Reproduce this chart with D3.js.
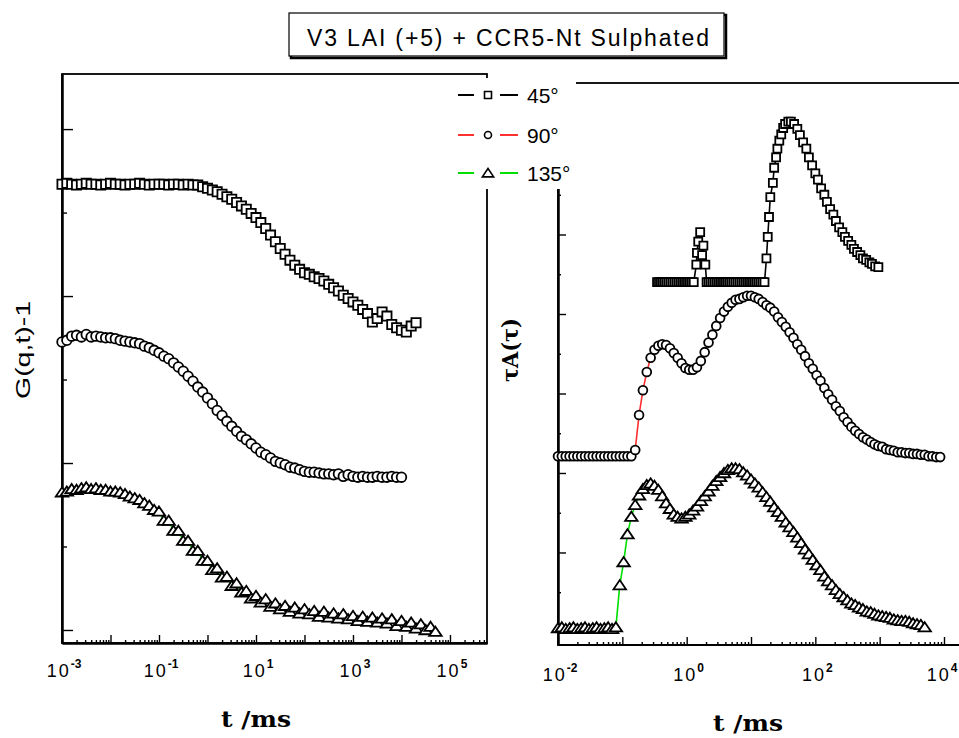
<!DOCTYPE html>
<html>
<head>
<meta charset="utf-8">
<script src="https://cdn.jsdelivr.net/npm/d3@7"></script>
<style>
  body { margin: 0; background: #fff; }
</style>
</head>
<body>
<script>
const title = 'V3 LAI (+5) + CCR5-Nt Sulphated'
const angles = ['45°', '90°', '135°']
const lineColors = ['#000000', '#ff3030', '#00e000']
const shapesUsed = ['square', 'circle', 'triangle']

const leftXLabel = 't /ms'
const leftYLabel = 'G(q,t)-1'
const rightXLabel = 't /ms'
const rightYLabel = 'τA(τ)'
const leftExponents = [-3, -1, 1, 3, 5]
const rightExponents = [-2, 0, 2, 4]

// left panel: log10(t / ms) and G(q,t)-1 (a.u.)
const leftLogT = [
  -3.0, -2.9, -2.8, -2.7, -2.6, -2.5, -2.4, -2.3, -2.2, -2.1,
  -2.0, -1.9, -1.8, -1.7, -1.6, -1.5, -1.4, -1.3, -1.2, -1.1,
  -1.0, -0.9, -0.8, -0.7, -0.6, -0.5, -0.4, -0.3, -0.2, -0.1,
  0.0, 0.1, 0.2, 0.3, 0.4, 0.5, 0.6, 0.7, 0.8, 0.9,
  1.0, 1.1, 1.2, 1.3, 1.4, 1.5, 1.6, 1.7, 1.8, 1.9,
  2.0, 2.1, 2.2, 2.3, 2.4, 2.5, 2.6, 2.7, 2.8, 2.9,
  3.0, 3.1, 3.2, 3.3, 3.4, 3.5, 3.6, 3.7, 3.8, 3.9,
  4.0, 4.1, 4.2, 4.3, 4.4, 4.5, 4.6, 4.7
]
const left45 = [
  0.534, 0.535, 0.534, 0.533, 0.534, 0.535, 0.534, 0.534, 0.533, 0.534,
  0.535, 0.534, 0.534, 0.533, 0.534, 0.534, 0.535, 0.534, 0.533, 0.534,
  0.534, 0.534, 0.533, 0.534, 0.534, 0.533, 0.534, 0.533, 0.533, 0.531,
  0.529, 0.527, 0.525, 0.522, 0.519, 0.516, 0.512, 0.508, 0.504, 0.499,
  0.494, 0.488, 0.481, 0.473, 0.465, 0.457, 0.450, 0.443, 0.437, 0.432,
  0.428, 0.426, 0.423, 0.421, 0.418, 0.414, 0.410, 0.406, 0.401, 0.397,
  0.393, 0.389, 0.384, 0.379, 0.369, 0.373, 0.381, 0.376, 0.366, 0.362,
  0.359, 0.357, 0.364, 0.368, null, null, null, null
]
const left90 = [
  0.345, 0.347, 0.352, 0.353, 0.351, 0.354, 0.351, 0.352, 0.351, 0.350,
  0.350, 0.349, 0.347, 0.346, 0.345, 0.344, 0.343, 0.340, 0.338, 0.335,
  0.332, 0.328, 0.325, 0.320, 0.315, 0.310, 0.304, 0.298, 0.291, 0.285,
  0.278, 0.271, 0.263, 0.257, 0.250, 0.244, 0.238, 0.232, 0.228, 0.223,
  0.218, 0.213, 0.210, 0.206, 0.202, 0.200, 0.198, 0.195, 0.194, 0.192,
  0.190, 0.189, 0.189, 0.188, 0.187, 0.187, 0.186, 0.187, 0.184, 0.186,
  0.184, 0.183, 0.184, 0.183, 0.183, 0.184, 0.183, 0.183, 0.184, 0.183,
  0.183, null, null, null, null, null, null, null
]
const left135 = [
  0.165, 0.166, 0.169, 0.168, 0.170, 0.171, 0.169, 0.170, 0.168, 0.168,
  0.166, 0.166, 0.165, 0.163, 0.160, 0.158, 0.156, 0.152, 0.149, 0.144,
  0.142, 0.131, 0.131, 0.119, 0.119, 0.107, 0.107, 0.095, 0.095, 0.083,
  0.083, 0.072, 0.074, 0.063, 0.064, 0.053, 0.056, 0.045, 0.047, 0.038,
  0.041, 0.033, 0.037, 0.028, 0.032, 0.025, 0.029, 0.022, 0.027, 0.020,
  0.025, 0.019, 0.023, 0.016, 0.022, 0.015, 0.020, 0.014, 0.019, 0.013,
  0.017, 0.011, 0.016, 0.010, 0.015, 0.009, 0.014, 0.008, 0.013, 0.005,
  0.011, 0.004, 0.009, 0.002, 0.007, 0.000, 0.004, -0.002
]

// right panel: log10(tau / ms) and tau A(tau) (a.u.)
const rightLogT = [
  -2.00, -1.94, -1.88, -1.82, -1.76, -1.70, -1.64, -1.58, -1.52, -1.46,
  -1.40, -1.34, -1.28, -1.22, -1.16, -1.10, -1.04, -0.98, -0.92, -0.86,
  -0.80, -0.74, -0.68, -0.62, -0.56, -0.50, -0.44, -0.38, -0.32, -0.26,
  -0.20, -0.14, -0.08, -0.02, 0.04, 0.10, 0.16, 0.22, 0.28, 0.34,
  0.40, 0.46, 0.52, 0.58, 0.64, 0.70, 0.76, 0.82, 0.88, 0.94,
  1.00, 1.06, 1.12, 1.18, 1.24, 1.30, 1.36, 1.42, 1.48, 1.54,
  1.60, 1.66, 1.72, 1.78, 1.84, 1.90, 1.96, 2.02, 2.08, 2.14,
  2.20, 2.26, 2.32, 2.38, 2.44, 2.50, 2.56, 2.62, 2.68, 2.74,
  2.80, 2.86, 2.92, 2.98, 3.04, 3.10, 3.16, 3.22, 3.28, 3.34,
  3.40, 3.46, 3.52, 3.58, 3.64, 3.70, 3.76, 3.82, 3.88, 3.94,
  4.00
]
const right90 = [
  2.21, 2.21, 2.21, 2.21, 2.21, 2.21, 2.21, 2.21, 2.21, 2.21,
  2.21, 2.21, 2.21, 2.21, 2.21, 2.21, 2.21, 2.21, 2.21, 2.21,
  2.29, 2.73, 3.04, 3.27, 3.45, 3.55, 3.60, 3.62, 3.61, 3.57,
  3.51, 3.45, 3.38, 3.32, 3.30, 3.30, 3.33, 3.41, 3.52, 3.64,
  3.74, 3.85, 3.95, 4.03, 4.09, 4.14, 4.18, 4.19, 4.21, 4.23,
  4.23, 4.21, 4.19, 4.15, 4.11, 4.08, 4.03, 3.96, 3.90, 3.84,
  3.77, 3.70, 3.62, 3.55, 3.47, 3.38, 3.31, 3.23, 3.16, 3.07,
  2.99, 2.92, 2.84, 2.78, 2.70, 2.64, 2.58, 2.53, 2.49, 2.45,
  2.42, 2.39, 2.36, 2.34, 2.33, 2.30, 2.29, 2.28, 2.26, 2.26,
  2.25, 2.25, 2.24, 2.24, 2.23, 2.23, 2.21, 2.21, 2.20, 2.20,
  null
]
const right135 = [
  0.05, 0.06, 0.04, 0.05, 0.06, 0.04, 0.05, 0.06, 0.04, 0.05,
  0.06, 0.04, 0.05, 0.06, 0.04, 0.06, 0.59, 0.88, 1.23, 1.45,
  1.60, 1.72, 1.80, 1.85, 1.87, 1.84, 1.79, 1.71, 1.62, 1.55,
  1.48, 1.45, 1.43, 1.45, 1.48, 1.53, 1.58, 1.65, 1.71, 1.77,
  1.84, 1.90, 1.95, 2.00, 2.04, 2.06, 2.06, 2.05, 2.01, 1.97,
  1.92, 1.87, 1.82, 1.76, 1.70, 1.64, 1.57, 1.51, 1.45, 1.38,
  1.32, 1.26, 1.19, 1.12, 1.04, 0.98, 0.91, 0.84, 0.78, 0.70,
  0.64, 0.59, 0.53, 0.48, 0.44, 0.40, 0.36, 0.34, 0.31, 0.29,
  0.26, 0.25, 0.23, 0.21, 0.20, 0.19, 0.18, 0.16, 0.15, 0.14,
  0.14, 0.13, 0.11, 0.10, 0.09, 0.06, null, null, null, null,
  null
]
const right45LogT = [
  -0.46, -0.43, -0.40, -0.37, -0.34, -0.31, -0.28, -0.25, -0.22, -0.19,
  -0.16, -0.13, -0.10, -0.07, -0.04, -0.01, 0.02, 0.05, 0.08, 0.11,
  0.15, 0.16, 0.18, 0.21, 0.24, 0.26, 0.29,
  0.31, 0.34, 0.37, 0.40, 0.43, 0.46, 0.49, 0.52, 0.55, 0.58,
  0.61, 0.64, 0.67, 0.70, 0.73, 0.76, 0.79, 0.82, 0.85, 0.88,
  0.91, 0.94, 0.97, 1.00, 1.03, 1.06, 1.09, 1.12, 1.15, 1.18, 1.21,
  1.24, 1.26, 1.28, 1.30, 1.34, 1.36, 1.39, 1.41, 1.44, 1.47,
  1.50, 1.53, 1.58, 1.62, 1.67, 1.72, 1.76, 1.81, 1.86, 1.90,
  1.95, 2.00, 2.04, 2.09, 2.14, 2.18, 2.23, 2.28, 2.32, 2.37,
  2.42, 2.46, 2.51, 2.56, 2.60, 2.65, 2.70, 2.74, 2.79, 2.84,
  2.88, 2.93, 2.98
]
const right45 = [
  4.40, 4.40, 4.40, 4.40, 4.40, 4.40, 4.40, 4.40, 4.40, 4.40,
  4.40, 4.40, 4.40, 4.40, 4.40, 4.40, 4.40, 4.40, 4.40, 4.40,
  4.62, 4.77, 4.91, 5.03, 4.74, 4.86, 4.62,
  4.40, 4.40, 4.40, 4.40, 4.40, 4.40, 4.40, 4.40, 4.40, 4.40,
  4.40, 4.40, 4.40, 4.40, 4.40, 4.40, 4.40, 4.40, 4.40, 4.40,
  4.40, 4.40, 4.40, 4.40, 4.40, 4.40, 4.40, 4.40, 4.40, 4.40, 4.40,
  4.70, 4.97, 5.22, 5.47, 5.65, 5.84, 5.97, 6.08, 6.18, 6.26,
  6.34, 6.39, 6.42, 6.42, 6.39, 6.33, 6.25, 6.16, 6.08, 5.97,
  5.87, 5.77, 5.69, 5.58, 5.50, 5.41, 5.32, 5.25, 5.17, 5.09,
  5.03, 4.97, 4.92, 4.87, 4.82, 4.78, 4.74, 4.70, 4.68, 4.65,
  4.63, 4.60, 4.59
]

const width = 959
const height = 738
const sans = '"Liberation Sans", Arial, sans-serif'
const serif = '"DejaVu Serif", "Liberation Serif", serif'

const shapePath = {
  square: s => `M${-s},${-s}h${2 * s}v${2 * s}h${-2 * s}Z`,
  circle: s => d3.symbol(d3.symbolCircle, Math.PI * s * s)(),
  triangle: s => `M0,${-s}L${s * 1.25},${s * 0.85}L${-s * 1.25},${s * 0.85}Z`,
}

const svg = d3
  .select('body')
  .append('svg')
  .attr('width', width)
  .attr('height', height)
  .attr('viewBox', [0, 0, width, height])
  .style('font-family', sans)

// scales
const xL = d3.scaleLog().domain([1e-3, 5.8e5]).range([62, 487])
const yL = d3.scaleLinear().domain([-0.0156, 0.666]).range([643, 74])
const xR = d3.scaleLog().domain([1e-2, 1e4]).range([558, 944])
const yR = d3.scaleLinear().domain([-0.164, 6.906]).range([645, 83])
const rightEdge = 980

function minorLog(scale) {
  const [a, b] = scale.domain()
  const out = []
  for (let e = Math.floor(Math.log10(a)); e <= Math.ceil(Math.log10(b)); e++) {
    for (let m = 2; m <= 9; m++) {
      const v = m * 10 ** e
      if (v > a && v < b) out.push(v)
    }
  }
  return out
}

function decades(scale) {
  const [a, b] = scale.domain()
  return d3.range(Math.ceil(Math.log10(a)), Math.floor(Math.log10(b)) + 1).map(e => 10 ** e)
}

function styleAxis(g) {
  g.selectAll('line').attr('stroke', '#000').attr('stroke-width', 1.4)
  g.select('.domain').attr('stroke', '#000').attr('stroke-width', 2)
}

// left frame
svg
  .append('rect')
  .attr('x', xL.range()[0])
  .attr('y', yL.range()[1])
  .attr('width', xL.range()[1] - xL.range()[0])
  .attr('height', yL.range()[0] - yL.range()[1])
  .attr('fill', 'none')
  .attr('stroke', '#000')
  .attr('stroke-width', 1.8)

// right frame
svg
  .append('rect')
  .attr('x', xR.range()[0])
  .attr('y', yR.range()[1])
  .attr('width', rightEdge - xR.range()[0])
  .attr('height', yR.range()[0] - yR.range()[1])
  .attr('fill', 'none')
  .attr('stroke', '#000')
  .attr('stroke-width', 1.8)

// axes (inward ticks)
svg
  .append('g')
  .attr('transform', `translate(0,${yL.range()[0]})`)
  .call(d3.axisBottom(xL).tickValues(decades(xL)).tickSizeInner(-8).tickSizeOuter(0).tickFormat(''))
  .call(styleAxis)
svg
  .append('g')
  .attr('transform', `translate(0,${yL.range()[0]})`)
  .call(d3.axisBottom(xL).tickValues(minorLog(xL)).tickSizeInner(-3).tickSizeOuter(0).tickFormat(''))
  .call(styleAxis)
svg
  .append('g')
  .attr('transform', `translate(${xL.range()[0]},0)`)
  .call(d3.axisLeft(yL).tickValues([0, 0.2, 0.4, 0.6]).tickSizeInner(-11).tickSizeOuter(0).tickFormat(''))
  .call(styleAxis)
svg
  .append('g')
  .attr('transform', `translate(${xL.range()[0]},0)`)
  .call(d3.axisLeft(yL).tickValues([0.1, 0.3, 0.5]).tickSizeInner(-5).tickSizeOuter(0).tickFormat(''))
  .call(styleAxis)

svg
  .append('g')
  .attr('transform', `translate(0,${yR.range()[0]})`)
  .call(d3.axisBottom(xR).tickValues(decades(xR)).tickSizeInner(-8).tickSizeOuter(0).tickFormat(''))
  .call(styleAxis)
  .call(g => g.select('.domain').attr('d', `M${xR.range()[0]},0H${rightEdge}`))
svg
  .append('g')
  .attr('transform', `translate(0,${yR.range()[0]})`)
  .call(d3.axisBottom(xR).tickValues(minorLog(xR)).tickSizeInner(-3).tickSizeOuter(0).tickFormat(''))
  .call(styleAxis)
  .call(g => g.select('.domain').remove())
svg
  .append('g')
  .attr('transform', `translate(${xR.range()[0]},0)`)
  .call(d3.axisLeft(yR).tickValues(d3.range(0, 7)).tickSizeInner(-8).tickSizeOuter(0).tickFormat(''))
  .call(styleAxis)
svg
  .append('g')
  .attr('transform', `translate(${xR.range()[0]},0)`)
  .call(d3.axisLeft(yR).tickValues(d3.range(0.5, 7, 1)).tickSizeInner(-3).tickSizeOuter(0).tickFormat(''))
  .call(styleAxis)

// tick labels 10^n
function powerLabels(exps, x, y) {
  svg
    .append('g')
    .selectAll('text')
    .data(exps)
    .join('text')
    .attr('x', d => Math.min(x(10 ** d) + 2, width - 17))
    .attr('y', y)
    .attr('text-anchor', 'middle')
    .attr('font-size', 18)
    .attr('fill', '#000')
    .call(t => t.append('tspan').attr('letter-spacing', 2).text('10'))
    .call(t =>
      t
        .append('tspan')
        .attr('dy', -9)
        .attr('font-size', 12)
        .attr('font-weight', 'bold')
        .text(d => d)
    )
}
powerLabels(leftExponents, xL, 677)
powerLabels(rightExponents, xR, 681)

// axis titles
svg
  .append('text')
  .attr('x', 256)
  .attr('y', 727)
  .attr('text-anchor', 'middle')
  .attr('font-family', serif)
  .attr('font-weight', 'bold')
  .attr('font-size', 23)
  .attr('textLength', 70)
  .attr('lengthAdjust', 'spacingAndGlyphs')
  .text(leftXLabel)

svg
  .append('text')
  .attr('x', 748)
  .attr('y', 731)
  .attr('text-anchor', 'middle')
  .attr('font-family', serif)
  .attr('font-weight', 'bold')
  .attr('font-size', 23)
  .attr('textLength', 70)
  .attr('lengthAdjust', 'spacingAndGlyphs')
  .text(rightXLabel)

svg
  .append('text')
  .attr('transform', 'translate(30,350) rotate(-90)')
  .attr('text-anchor', 'middle')
  .attr('font-size', 21)
  .attr('textLength', 98)
  .attr('lengthAdjust', 'spacingAndGlyphs')
  .text(leftYLabel)

svg
  .append('text')
  .attr('transform', 'translate(518,350) rotate(-90)')
  .attr('text-anchor', 'middle')
  .attr('font-family', serif)
  .attr('font-weight', 'bold')
  .attr('font-size', 22)
  .attr('textLength', 64)
  .attr('lengthAdjust', 'spacingAndGlyphs')
  .text(rightYLabel)

// data
function plotSeries(x, y, logT, values, shape, size, color) {
  const pts = logT.map((L, i) => [10 ** L, values[i]]).filter(d => d[1] != null)
  const g = svg.append('g')
  g.append('path')
    .datum(pts)
    .attr('fill', 'none')
    .attr('stroke', color)
    .attr('stroke-width', 1.6)
    .attr('d', d3.line().x(d => x(d[0])).y(d => y(d[1])))
  g.selectAll('path.pt')
    .data(pts)
    .join('path')
    .attr('class', 'pt')
    .attr('transform', d => `translate(${x(d[0])},${y(d[1])})`)
    .attr('d', shapePath[shape](size))
    .attr('fill', '#fff')
    .attr('stroke', '#000')
    .attr('stroke-width', 1.8)
}

plotSeries(xL, yL, leftLogT, left45, shapesUsed[0], 4.6, lineColors[0])
plotSeries(xL, yL, leftLogT, left90, shapesUsed[1], 4.8, lineColors[1])
plotSeries(xL, yL, leftLogT, left135, shapesUsed[2], 5, lineColors[2])

plotSeries(xR, yR, right45LogT, right45, shapesUsed[0], 4, lineColors[0])
plotSeries(xR, yR, rightLogT, right90, shapesUsed[1], 4.4, lineColors[1])
plotSeries(xR, yR, rightLogT, right135, shapesUsed[2], 5, lineColors[2])

// legend
svg.append('rect').attr('x', 455).attr('y', 78).attr('width', 121).attr('height', 111).attr('fill', '#fff')

const legend = svg
  .append('g')
  .selectAll('g')
  .data(angles)
  .join('g')
  .attr('transform', (d, i) => `translate(0,${[95, 135, 173][i]})`)

legend.append('line').attr('x1', 458).attr('x2', 474).attr('stroke', (d, i) => lineColors[i]).attr('stroke-width', 2)
legend.append('line').attr('x1', 500).attr('x2', 518).attr('stroke', (d, i) => lineColors[i]).attr('stroke-width', 2)
legend
  .append('path')
  .attr('transform', 'translate(488,0)')
  .attr('d', (d, i) => shapePath[shapesUsed[i]](i === 2 ? 4.5 : 3.5))
  .attr('fill', '#fff')
  .attr('stroke', '#000')
  .attr('stroke-width', 1.6)
legend
  .append('text')
  .attr('x', 527)
  .attr('y', 8)
  .attr('font-size', 21)
  .text(d => d)

// title box
svg
  .append('rect')
  .attr('x', 291)
  .attr('y', 15)
  .attr('width', 435)
  .attr('height', 43)
  .attr('fill', 'none')
  .attr('stroke', '#000')
  .attr('stroke-width', 2.5)
svg
  .append('rect')
  .attr('x', 289)
  .attr('y', 13)
  .attr('width', 435)
  .attr('height', 43)
  .attr('fill', '#fff')
  .attr('stroke', '#000')
  .attr('stroke-width', 1.2)
svg
  .append('text')
  .attr('x', 508)
  .attr('y', 46)
  .attr('text-anchor', 'middle')
  .attr('font-size', 23)
  .attr('textLength', 402)
  .attr('lengthAdjust', 'spacing')
  .text(title)
</script>
</body>
</html>
